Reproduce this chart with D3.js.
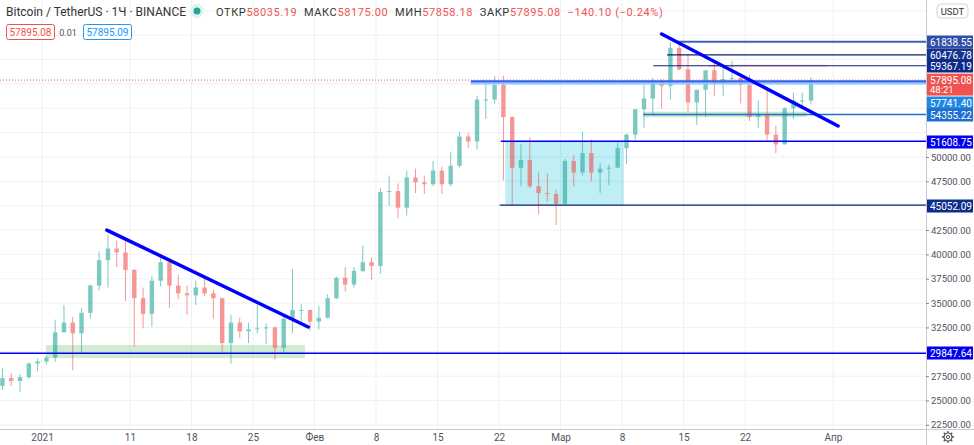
<!DOCTYPE html>
<html><head><meta charset="utf-8">
<script src="https://cdn.jsdelivr.net/npm/d3@7"></script>
<style>body{margin:0;background:#fff;font-family:Roboto,sans-serif}</style>
</head><body><svg id="c" width="974" height="445"></svg>
<script>
const startDate = "2020-12-27";
const closes = [27300,27000,27400,28800,29000,
29400,32000,33000,31900,34000,36800,39400,40600,40200,38400,35500,33900,37300,39200,36800,36000,35800,36600,36000,35500,30900,33000,32100,32300,32400,32500,30400,33400,34300,34300,33100,
33500,35500,37600,36900,38300,39200,38800,46400,46500,44800,47900,47400,47200,48600,47200,49100,52100,51600,55900,55900,57400,54100,48900,49700,47000,46300,46200,45200,
49600,48400,50400,48400,48800,48900,50900,52300,54900,56000,57800,57300,61200,59000,55600,56900,58900,57600,58000,58100,57400,54100,54300,52300,51300,55000,55800,55800,57895.08];
const highs = [28300,27800,27700,28900,29300,
29600,33300,34800,33600,34500,36900,40300,42000,41400,41400,38500,36600,37800,40000,39600,37900,36800,37300,37800,36400,35600,33800,33500,33000,34800,32900,32600,33800,38500,34900,34300,
34700,35900,37700,38700,38700,40900,39700,46800,48100,47300,48600,48800,48100,49600,49000,50500,52600,52500,56300,57500,58300,58350,54200,51300,52000,48400,48300,46600,
49800,50200,52600,51800,49400,49200,51500,52400,54900,57400,58100,58000,61800,61600,60600,56900,58900,60000,59500,59900,58600,58400,55800,57200,53200,55100,56600,56600,58175];
const lows = [26100,26500,25900,27200,28000,
28700,29000,32000,28100,29900,33400,36300,36600,38700,35200,30500,32400,32600,36700,34500,35400,33800,34800,35700,33400,30000,28800,31400,30900,31900,30800,29200,29900,31900,32900,32200,
32300,33400,35400,36200,36600,38200,37400,38000,45000,43700,44000,46300,46200,47000,46200,47000,48900,50900,50800,53900,55500,47600,45000,47000,46800,44100,45400,43000,
45000,47000,48100,47500,46300,47100,48900,49300,51800,53000,54300,55000,55900,58900,54600,53300,54100,56300,56300,57800,55500,53700,53000,51700,50400,51300,53900,55100,55400];
const firstOpen = 26500;
const priceTicks = [22500,25000,27500,30000,32500,35000,37500,40000,42500,45000,47500,50000,52500,55000,57500,60000,62500,65000];
const dateTicks = ["2021-01-01","2021-01-11","2021-01-18","2021-01-25","2021-02-01","2021-02-08","2021-02-15","2021-02-22","2021-03-01","2021-03-08","2021-03-15","2021-03-22","2021-04-01"];
const dateTickLabels = ["2021","11","18","25","Фев","8","15","22","Мар","8","15","22","Апр"];
const levels = [
 {p:61838.55, t:"2021-03-14T06:00", c:"#3f5fb8", bg:"#2f4fa8", w:2, ly:42},
 {p:60476.78, t:"2021-03-13T03:00", c:"#0d1f7a", bg:"#15338c", w:1.2, ly:55},
 {p:59367.19, t:"2021-03-11T13:00", c:"#0d1f7a", bg:"#0d2a8a", w:1.2, ly:66},
 {p:57741.40, t:"2021-02-18T19:00", c:"#2962ff", bg:"#1e88e5", w:2.5, ly:103},
 {p:54355.22, t:"2021-03-10T10:00", c:"#1e6fd0", bg:"#1e6fd0", w:1.5, ly:115},
 {p:51608.75, t:"2021-02-22T05:00", c:"#0000ee", bg:"#0000ee", w:1.5, ly:142},
 {p:45052.09, t:"2021-02-22T02:00", c:"#0d1f7a", bg:"#0d2d8c", w:1.2, ly:206},
 {p:29847.64, t:"2020-12-20T00:00", c:"#0000ee", bg:"#0000ee", w:1.5, ly:353}
];
const rects = [
 {t0:"2021-01-01T11:00", t1:"2021-01-30T22:00", p0:29350, p1:30700, fill:"rgba(76,175,80,0.25)"},
 {t0:"2021-02-22T17:00", t1:"2021-03-08T05:00", p0:45052.09, p1:51608.75, fill:"rgba(0,188,212,0.25)"},
 {t0:"2021-03-10T10:00", t1:"2021-03-29T00:00", p0:54100, p1:54650, fill:"rgba(76,175,80,0.3)"},
 {t0:"2021-03-17T20:00", t1:"2021-03-31T10:00", p0:59250, p1:59480, fill:"rgba(239,83,80,0.25)"}
];
const trendlines = [
 {t0:"2021-01-08T09:00", p0:42500, t1:"2021-01-31T07:00", p1:32550},
 {t0:"2021-03-12T12:00", p0:62630, t1:"2021-04-01T14:00", p1:53180}
];
const lastPrice = 57895.08;

const svg = d3.select("#c");
const W=974, plotR=926, axisY=429, FF="Roboto";
const pd = s => new Date(s.length>10? s+":00Z" : s+"T00:00:00Z");
const x = d3.scaleUtc().domain([pd("2021-01-01"), pd("2021-04-01")]).range([42,833]);
const y = d3.scaleLinear().domain([50000,60000]).range([157,59.6]);
const day = 86400000;
const t0 = pd(startDate);
const candles = closes.map((c,i)=>({t:new Date(+t0+i*day+day/2), o:i?closes[i-1]:firstOpen, h:highs[i], l:lows[i], c}));

svg.append("clipPath").attr("id","pc").append("rect").attr("x",0).attr("y",0).attr("width",plotR).attr("height",axisY);
const g = svg.append("g").attr("clip-path","url(#pc)");
g.selectAll(".hg").data(priceTicks).join("line").attr("x1",0).attr("x2",plotR).attr("y1",d=>y(d)).attr("y2",d=>y(d)).attr("stroke","#eef1f5");
g.selectAll(".vg").data(dateTicks).join("line").attr("y1",0).attr("y2",axisY).attr("x1",d=>x(pd(d))).attr("x2",d=>x(pd(d))).attr("stroke","#eef1f5");
g.selectAll(".rc").data(rects).join("rect").attr("x",d=>x(pd(d.t0))).attr("width",d=>x(pd(d.t1))-x(pd(d.t0)))
 .attr("y",d=>y(d.p1)).attr("height",d=>y(d.p0)-y(d.p1)).attr("fill",d=>d.fill);
const bw = (x(new Date(+t0+day))-x(t0))*0.5;
const cg = g.append("g").attr("opacity",0.6);
cg.selectAll(".wk").data(candles).join("line").attr("x1",d=>x(d.t)).attr("x2",d=>x(d.t)).attr("y1",d=>y(d.h)).attr("y2",d=>y(d.l))
 .attr("stroke",d=>d.c>=d.o?"#26a69a":"#ef5350");
cg.selectAll(".bd").data(candles).join("rect").attr("x",d=>x(d.t)-bw/2).attr("width",bw)
 .attr("y",d=>y(Math.max(d.o,d.c))).attr("height",d=>Math.max(1,Math.abs(y(d.o)-y(d.c))))
 .attr("fill",d=>d.c>=d.o?"#26a69a":"#ef5350");
g.selectAll(".lv").data(levels).join("line").attr("x1",d=>Math.max(0,x(pd(d.t)))).attr("x2",plotR).attr("y1",d=>y(d.p)).attr("y2",d=>y(d.p))
 .attr("stroke",d=>d.c).attr("stroke-width",d=>d.w);
g.append("line").attr("x1",x(pd("2021-02-18T19:00"))).attr("x2",plotR).attr("y1",y(57741.40)+2).attr("y2",y(57741.40)+2).attr("stroke","#90caf9").attr("stroke-width",2);
g.append("line").attr("x1",0).attr("x2",plotR).attr("y1",y(lastPrice)).attr("y2",y(lastPrice)).attr("stroke","#ef5350").attr("stroke-dasharray","1,2");
g.selectAll(".tl").data(trendlines).join("line").attr("x1",d=>x(pd(d.t0))).attr("y1",d=>y(d.p0)).attr("x2",d=>x(pd(d.t1))).attr("y2",d=>y(d.p1))
 .attr("stroke","#0000ff").attr("stroke-width",3.5).attr("stroke-linecap","round");

svg.append("line").attr("x1",plotR+0.5).attr("x2",plotR+0.5).attr("y1",0).attr("y2",445).attr("stroke","#c8ccd2");
svg.append("line").attr("x1",0).attr("x2",W).attr("y1",axisY+0.5).attr("y2",axisY+0.5).attr("stroke","#c8ccd2");
const tagYs = levels.map(d=>d.ly).concat([y(lastPrice), y(lastPrice)+9, 11]);
const visTicks = priceTicks.filter(p=>tagYs.every(t=>Math.abs(y(p)-t)>11));
const yAxis = d3.axisRight(y).tickValues(visTicks).tickSize(3).tickFormat(d=>d3.format(".2f")(d));
const ya = svg.append("g").attr("transform",`translate(${plotR},0)`).call(yAxis);
ya.select(".domain").remove();
ya.selectAll("text").attr("font-size",9.5).attr("fill","#50535e").attr("font-family",FF).attr("x",5);
ya.selectAll("line").attr("stroke","#888");
const xAxis = d3.axisBottom(x).tickValues(dateTicks.map(pd)).tickSize(0).tickFormat((d,i)=>dateTickLabels[i]);
const xa = svg.append("g").attr("transform",`translate(0,${axisY+2})`).call(xAxis);
xa.select(".domain").remove();
xa.selectAll("text").attr("font-size",10).attr("fill","#50535e").attr("font-family",FF);
const lbl = svg.append("g").attr("font-family",FF);
function tag(yc, txt, bg){
 lbl.append("rect").attr("x",plotR+1).attr("y",yc-6.5).attr("width",W-plotR-2).attr("height",13).attr("fill",bg);
 lbl.append("text").attr("x",plotR+4).attr("y",yc+3.5).attr("font-size",10).attr("fill","#fff").text(txt);
}
levels.forEach(d=>tag(d.ly, d3.format(".2f")(d.p), d.bg));
lbl.append("rect").attr("x",plotR+1).attr("y",y(lastPrice)-6.5).attr("width",W-plotR-2).attr("height",22).attr("fill","#ef5350");
lbl.append("text").attr("x",plotR+4).attr("y",y(lastPrice)+3.5).attr("font-size",10).attr("fill","#fff").text(d3.format(".2f")(lastPrice));
lbl.append("text").attr("x",plotR+4).attr("y",y(lastPrice)+13).attr("font-size",9.5).attr("fill","#fff").text("48:21");
lbl.append("rect").attr("x",937).attr("y",4).attr("width",31).attr("height",14).attr("rx",4).attr("fill","#fff").attr("stroke","#d0d3da");
lbl.append("text").attr("x",952.5).attr("y",14.5).attr("text-anchor","middle").attr("font-size",9.5).attr("fill","#333").text("USDT");
const gear = svg.append("g").attr("transform","translate(948,437)");
gear.append("circle").attr("r",4).attr("fill","none").attr("stroke","#555").attr("stroke-width",1.2);
d3.range(8).forEach(i=>{const a=i*Math.PI/4;gear.append("line").attr("x1",4*Math.cos(a)).attr("y1",4*Math.sin(a)).attr("x2",6*Math.cos(a)).attr("y2",6*Math.sin(a)).attr("stroke","#555").attr("stroke-width",1.3);});
gear.append("circle").attr("r",1.6).attr("fill","#fff").attr("stroke","#555");
const hd = svg.append("g").attr("font-family",FF);
hd.append("text").attr("x",6).attr("y",16).attr("font-size",12).attr("fill","#333").text("Bitcoin / TetherUS · 1Ч · BINANCE");
hd.append("circle").attr("cx",197).attr("cy",11).attr("r",7).attr("fill","#dff3ef");
hd.append("circle").attr("cx",197).attr("cy",11).attr("r",3.5).attr("fill","#26a69a");
const ht = hd.append("text").attr("x",216).attr("y",15.5).attr("font-size",11).attr("letter-spacing",0.6);
[["ОТКР","#333"],["58035.19  ","#ef5350"],["МАКС","#333"],["58175.00  ","#ef5350"],["МИН","#333"],["57858.18  ","#ef5350"],["ЗАКР","#333"],["57895.08  −140.10 (−0.24%)","#ef5350"]]
 .forEach(([t,c])=>ht.append("tspan").attr("fill",c).attr("xml:space","preserve").style("white-space","pre").text(t));
hd.append("rect").attr("x",6.5).attr("y",24.5).attr("width",48).attr("height",15).attr("rx",2).attr("fill","#fff").attr("stroke","#ef5350");
hd.append("text").attr("x",30.5).attr("y",35.5).attr("text-anchor","middle").attr("font-size",10).attr("fill","#ef5350").text("57895.08");
hd.append("text").attr("x",68).attr("y",35.5).attr("text-anchor","middle").attr("font-size",9).attr("fill","#555").text("0.01");
hd.append("rect").attr("x",83.5).attr("y",24.5).attr("width",48).attr("height",15).attr("rx",2).attr("fill","#fff").attr("stroke","#2196f3");
hd.append("text").attr("x",107.5).attr("y",35.5).attr("text-anchor","middle").attr("font-size",10).attr("fill","#2196f3").text("57895.09");
</script></body></html>
